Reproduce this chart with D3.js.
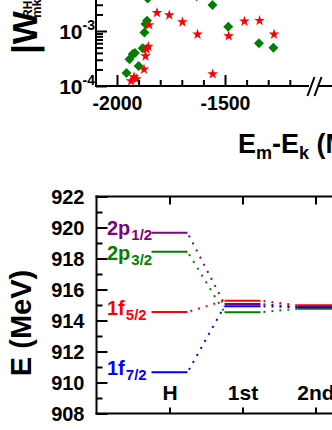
<!DOCTYPE html>
<html><head><meta charset="utf-8">
<script src="https://cdn.jsdelivr.net/npm/d3@7"></script>
<style>
html,body{margin:0;padding:0;background:#fff;}
svg{display:block;}
text{font-family:"Liberation Sans",Arial,sans-serif;font-weight:bold;fill:#000;}
</style></head><body>
<svg id="chart" width="332" height="430"></svg>
<script>
// ---- Top panel data: |W^RH_mk| versus Em-Ek ----
const greenX = [-1858,-1631,-1558,-1861,-1868,-1873,-1881,-1917,-1927,-1942,-1900,-1956,-1485,-1343,-1276];
const greenY = [3.9e-3,4.3e-3,2.97e-3,1.54e-3,1.34e-3,9.4e-4,4.85e-4,3.98e-4,3.82e-4,3.06e-4,2.31e-4,1.72e-4,1.2e-3,5.97e-4,4.97e-4];
const redX = [-1815,-1758,-1697,-1627,-1851,-1855,-1863,-1868,-1875,-1921,-1935,-1910,-1557,-1483,-1410,-1340,-1273];
const redY = [2.15e-3,1.95e-3,1.45e-3,8.7e-4,1.29e-3,5.2e-4,4.65e-4,3.5e-4,2.01e-4,1.46e-4,1.23e-4,1.34e-4,1.65e-4,8.1e-4,1.5e-3,1.54e-3,8.7e-4];
const topXMajor = [-2000,-1500];
const topXMinor = [-1900,-1800,-1700,-1600,-1400,-1300,-1200];
const topYMajor = [1e-4,1e-3];
const topYExp = ["-4","-3"];
const topYMinor = [2e-4,3e-4,4e-4,5e-4,6e-4,7e-4,8e-4,9e-4,2e-3,3e-3,4e-3];

// ---- Bottom panel data: single-particle levels ----
const stages = ["H","1st","2nd"];
const levelNames = ["2p","2p","1f","1f"];
const levelSubs = ["1/2","3/2","5/2","7/2"];
const eH   = [919.66,918.44,914.55,910.66];
const e1st = [915.06,914.53,915.28,914.92];
const e2nd = [914.88,914.76,914.99,914.85];
const eMajor = [908,910,912,914,916,918,920,922];
const eMinor = [909,911,913,915,917,919,921];

const levelColors = ["#800080","#008000","#ff0000","#0000ff"];
const greenCol = "#008000", redCol = "#ff0000";

const svg = d3.select("#chart");
svg.append("rect").attr("width",332).attr("height",430).attr("fill","#fff");

// ================= TOP PANEL =================
const xT = d3.scaleLinear().domain([-2000,-1500]).range([117,225]);
const yT = d3.scaleLog().domain([1e-4,1e-3]).range([86,31]);
const gTop = svg.append("g");

const diamond = d3.symbol().type(d3.symbolSquare).size(50);
gTop.selectAll(".g").data(greenX).join("path")
  .attr("d", diamond)
  .attr("transform",(d,i)=>`translate(${xT(d)},${yT(greenY[i])}) rotate(45)`)
  .attr("fill",greenCol);
const star = d3.symbol().type(d3.symbolStar).size(36);
gTop.selectAll(".r").data(redX).join("path")
  .attr("d", star)
  .attr("transform",(d,i)=>`translate(${xT(d)},${yT(redY[i])})`)
  .attr("fill",redCol);

function styleAxis(g){
  g.select(".domain").remove();
  g.selectAll("line").attr("stroke","#000").attr("stroke-width",2);
}
gTop.append("g").attr("transform","translate(0,86)")
  .call(d3.axisBottom(xT).tickValues(topXMinor).tickSize(-6).tickFormat(""))
  .call(styleAxis);
const gxt = gTop.append("g").attr("transform","translate(0,86)")
  .call(d3.axisBottom(xT).tickValues(topXMajor).tickSize(-11).tickPadding(0).tickFormat(d=>String(d)))
  .call(styleAxis);
gxt.selectAll("text").attr("y",23.5).attr("dy",null).attr("font-size",19.5)
  .attr("font-family",null).attr("fill","#000");

gTop.append("g").attr("transform","translate(96,0)")
  .call(d3.axisLeft(yT).tickValues(topYMinor).tickSize(-7).tickFormat(""))
  .call(styleAxis);
const gyt = gTop.append("g").attr("transform","translate(96,0)")
  .call(d3.axisLeft(yT).tickValues(topYMajor).tickSize(-11).tickFormat(""))
  .call(styleAxis);
gyt.selectAll(".tick").append("text")
  .attr("x",-1).attr("y",7.5).attr("text-anchor","end").attr("font-size",21)
  .each(function(d,i){
    const t = d3.select(this);
    t.append("tspan").text("10");
    t.append("tspan").attr("font-size",14).attr("dy",-9).text(topYExp[i]);
  });

gTop.append("line").attr("x1",96).attr("x2",96).attr("y1",-2).attr("y2",87)
  .attr("stroke","#000").attr("stroke-width",2);
gTop.append("line").attr("x1",95).attr("x2",309).attr("y1",86).attr("y2",86)
  .attr("stroke","#000").attr("stroke-width",2);
gTop.append("line").attr("x1",318).attr("x2",333).attr("y1",86).attr("y2",86)
  .attr("stroke","#000").attr("stroke-width",2);
[0,7].forEach(o=>{
  gTop.append("line").attr("x1",307.5+o).attr("y1",96).attr("x2",314.5+o).attr("y2",77)
    .attr("stroke","#000").attr("stroke-width",2);
});

const yl = gTop.append("g").attr("transform","rotate(-90)");
yl.append("text").attr("x",-54).attr("y",37).attr("font-size",35).text("|W");
yl.append("text").attr("x",-18).attr("y",32).attr("font-size",12).text("RH");
yl.append("text").attr("x",-18).attr("y",41).attr("font-size",13).text("mk");

const xt = gTop.append("text").attr("x",238).attr("y",153).attr("font-size",27);
xt.append("tspan").text("E");
xt.append("tspan").attr("font-size",18).attr("dy",6).text("m");
xt.append("tspan").attr("dy",-6).text("-E");
xt.append("tspan").attr("font-size",18).attr("dy",6).text("k");
xt.append("tspan").attr("dy",-6).text(" (MeV)");

// ================= BOTTOM PANEL =================
const xB = d3.scaleLinear().domain([0,2]).range([169.5,315.5]);
const yB = d3.scaleLinear().domain([908,922]).range([413.5,196.5]);
const gBot = svg.append("g");
const x0 = xB(-1);

gBot.append("line").attr("x1",x0).attr("x2",x0).attr("y1",195.5).attr("y2",414.5).attr("stroke","#000").attr("stroke-width",2);
gBot.append("line").attr("x1",x0-1).attr("x2",333).attr("y1",196.5).attr("y2",196.5).attr("stroke","#000").attr("stroke-width",2);
gBot.append("line").attr("x1",x0-1).attr("x2",333).attr("y1",413.5).attr("y2",413.5).attr("stroke","#000").attr("stroke-width",2);

gBot.append("g").attr("transform",`translate(${x0},0)`)
  .call(d3.axisLeft(yB).tickValues(eMinor).tickSize(-6).tickFormat(""))
  .call(styleAxis);
const gyb = gBot.append("g").attr("transform",`translate(${x0},0)`)
  .call(d3.axisLeft(yB).tickValues(eMajor).tickSize(-11).tickPadding(12).tickFormat(d3.format("d")))
  .call(styleAxis);
gyb.selectAll("text").attr("font-size",20).attr("font-family",null).attr("fill","#000").attr("dy","0.36em");

const gxb = gBot.append("g").attr("transform","translate(0,413.5)")
  .call(d3.axisBottom(xB).tickValues([0,1,2]).tickSize(-6).tickFormat((d,i)=>stages[i]))
  .call(styleAxis);
gxb.selectAll("text").attr("y",-13.5).attr("dy",null).attr("font-size",21).attr("font-family",null).attr("fill","#000");
gBot.append("g").attr("transform","translate(0,196.5)")
  .call(d3.axisTop(xB).tickValues([0,1,2]).tickSize(-8).tickFormat(""))
  .call(styleAxis);

const energies = [eH,e1st,e2nd];
const half = 18;
const drawOrder = [0,1,3,2];
drawOrder.forEach(j=>{
  for(let s=0;s<stages.length-1;s++){
    const xa = xB(s)+half, xb = xB(s+1)-half;
    gBot.append("line").attr("x1",xa).attr("x2",xb)
      .attr("y1",yB(energies[s][j])).attr("y2",yB(energies[s+1][j]))
      .attr("stroke",levelColors[j]).attr("stroke-width",2)
      .attr("stroke-dasharray","2,6").attr("stroke-dashoffset",5);
  }
});
drawOrder.forEach(j=>{
  energies.forEach((arr,s)=>{
    gBot.append("line").attr("x1",xB(s)-half).attr("x2",xB(s)+half)
      .attr("y1",yB(arr[j])).attr("y2",yB(arr[j]))
      .attr("stroke",levelColors[j]).attr("stroke-width",2);
  });
});

const labelDy = [2,8,3,3];
levelNames.forEach((n,j)=>{
  const t = gBot.append("text").attr("x",107).attr("y",yB(eH[j])+labelDy[j])
    .attr("font-size",20).style("fill",levelColors[j]);
  t.append("tspan").text(n);
  t.append("tspan").attr("font-size",15).attr("dx",1).attr("dy",5).text(levelSubs[j]);
});

gBot.append("text").attr("transform","translate(31,323) rotate(-90)")
  .attr("text-anchor","middle").attr("font-size",29).text("E (MeV)");
</script>
</body></html>
